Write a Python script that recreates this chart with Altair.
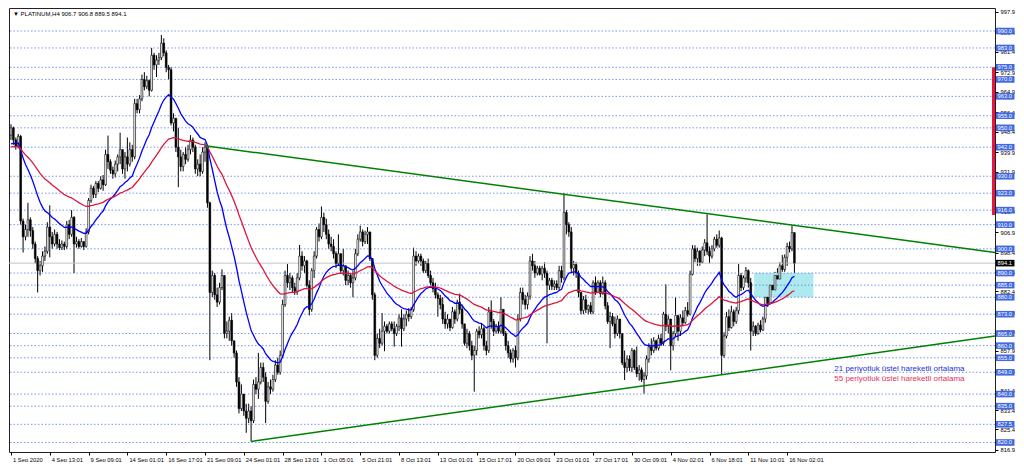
import json
import altair as alt
import pandas as pd

# ---------------- data ----------------
TITLE = "▼ PLATINUM,H4 906.7 906.8 889.5 894.1"
FIRST_OPEN = 947.0

CLOSE = [
    950, 945, 942.5, 946.5, 911.5, 905, 908, 912, 907.5, 902, 896, 891, 893, 897, 899, 909,
    905, 902, 906, 902, 900.5, 902, 901, 910, 906, 913, 902, 903, 901, 903, 901, 907,
    920, 925, 922.5, 927, 925, 928.5, 926.5, 939, 936, 932.5, 931, 935, 938, 941,
    933, 938, 935, 941, 938, 960, 957.5, 962, 970, 967, 969.5, 965.5, 980, 976, 978, 979,
    985, 981, 975, 974, 952, 954, 942, 938, 934, 939, 937, 941, 945, 942, 933, 935,
    932, 940, 942, 919, 882, 889, 881, 878, 884, 889, 865, 866, 870.5, 862, 857, 845,
    834, 840, 833, 830, 833, 829, 844, 842, 845, 851, 847, 837, 843, 842, 846, 852,
    849, 856, 877, 889, 886, 888, 884, 882.5, 888, 897, 893, 895, 885, 875, 891, 897,
    908, 905, 913, 910, 906, 902, 901, 898, 894, 898, 891, 893, 887, 889, 886, 888,
    898, 904, 907, 903, 906, 907, 896, 881, 856, 863, 861, 866, 868, 866, 869, 867,
    865, 868, 871.5, 867, 871, 873, 872, 875, 897, 895, 897, 895, 891, 894, 889, 886,
    883.5, 881, 879.5, 877, 871, 869, 871, 867.5, 874, 871, 878, 875, 869, 861, 865, 860,
    856, 858, 866, 864.5, 867, 860, 858, 874, 870, 866, 868, 866, 875, 865, 860, 857,
    854.5, 858, 855, 871, 882, 879, 877, 880.5, 895, 893, 890, 892, 889.5, 892, 890, 885,
    887, 884.5, 885.5, 884, 891, 888, 915, 910, 907, 892, 893.5, 890, 882, 874.5, 879, 875,
    876.5, 874, 886, 882, 886, 881.5, 886, 876.5, 870, 872, 869, 865, 871, 865, 853, 851,
    854.5, 851, 858, 851, 848.5, 850, 846, 847.5, 854.5, 859.5, 858, 862, 859, 863, 861, 873,
    868, 871, 860, 865, 872.5, 866, 871.5, 869.5, 874.5, 873, 889.5, 900, 896, 899, 894.5, 899.5,
    902.5, 899, 897, 900, 904, 901.5, 904.5, 856, 864, 872, 867.5, 874, 870, 874.5, 889, 884,
    888, 891, 886, 866, 868, 865, 868.5, 866.5, 871, 880, 877.5, 885, 883, 889, 887.5, 893,
    891.5, 896.5, 901, 900, 906.7, 894.1,
]
HIGH = [
    951.5, 950.5, 946, 947.5, 947, 912.5, 910, 919, 913, 909, 903, 897, 895, 899, 901, 911,
    918, 907, 908, 907, 904, 903.5, 903, 911.5, 912, 916, 913.5, 905, 904, 904.5, 903, 908.5,
    921, 926.5, 926, 928, 928, 930, 930.5, 941, 946.8, 937, 934, 936.5, 939, 948,
    941, 940, 946, 944, 943, 962, 962, 963.5, 972, 973, 971.5, 970, 983, 981, 980, 981,
    988.4, 987, 982, 976, 975, 956, 953, 950, 941, 940, 942, 943, 947, 946, 943, 937,
    939, 942, 944, 942, 919.5, 891, 890, 884, 886, 891.5, 889, 870, 872, 873.5, 862, 858,
    847, 844, 840, 836, 836, 835, 846, 847, 857, 853, 853, 849, 845, 846, 848, 854,
    855, 858, 879, 891, 893.7, 890, 889, 886, 890, 901.6, 899, 897, 895.5, 887, 892, 899,
    909, 910.5, 917.5, 915, 912.5, 908, 905, 904, 899, 906, 898, 900, 893, 891, 890, 891,
    900, 906, 909.6, 908, 907.5, 909, 907, 896, 882, 865, 867, 873.5, 870, 869, 870, 870,
    870, 869, 873, 875, 873, 874.5, 875.5, 876, 900.5, 899, 898, 898, 896, 895, 896, 891,
    888, 886, 882, 881, 880, 874, 873, 871, 876, 875, 879, 881.5, 877, 869, 867, 866,
    862, 860, 867, 868, 869, 868, 862, 876, 878.7, 871, 869, 870, 880, 875, 866, 862,
    858.5, 859, 860, 873, 884, 884, 881, 882, 897, 898, 895, 893, 893, 893, 894.5, 891,
    888, 888, 887, 887, 893, 893, 923, 916, 911, 909, 895, 894.5, 891, 882, 880.5, 881,
    877, 878, 887, 888.6, 887, 887, 888.6, 887, 878, 874, 873.5, 872, 872.5, 871, 864, 858,
    856, 856, 859, 858.5, 859.6, 852, 851, 849, 856, 861, 863, 863.5, 862.5, 864.5, 865, 874,
    885.4, 872.5, 871, 866, 879.9, 872.5, 873, 874.5, 876, 878, 891, 901.5, 901.5, 900.5, 899.5, 901,
    904, 914.3, 901, 901.5, 905, 906, 907.6, 905, 865.5, 874, 875, 876.5, 875, 876, 893.7, 890,
    889, 892.5, 891.5, 888, 870, 868.5, 869.5, 870.5, 872, 881.5, 884, 886.5, 889, 890.5, 892, 894.5,
    897.5, 897.7, 902.5, 903, 909.6, 906.8,
]
LOW = [
    945, 943, 941, 941.5, 910, 898.5, 903.5, 905, 905, 900, 894, 882, 889, 890.5, 895, 898,
    896.5, 900, 901, 900, 899.5, 899.5, 899.5, 900, 904, 905, 890, 900.5, 900, 900.5, 899.5, 900.5,
    906, 919, 921, 921, 923.5, 924.5, 924, 926, 933, 931, 929, 929.5, 932, 935,
    931, 929, 932, 934, 936, 937, 956, 956, 961, 965.5, 966, 963, 965, 974, 971, 976,
    978, 979.5, 973, 970, 951, 948.5, 940, 925.5, 932, 932, 935, 936, 939, 940, 931, 930,
    930, 931, 936, 917, 854, 880, 879, 876, 877, 883, 863, 863, 862, 860, 855, 843,
    832, 833, 831, 824, 828, 820.4, 828, 840, 838, 844, 845, 828, 836, 840, 841, 845,
    848, 848, 855, 876, 884, 883, 882, 881, 881, 887, 891, 890, 884, 872.5, 874, 888,
    896, 903, 904, 907, 904, 900, 899, 896, 892, 893, 890, 889, 885, 885, 884, 880,
    887, 897, 903, 901, 902, 902, 895, 879, 854, 855, 859, 860, 857.7, 865, 865, 866,
    859.6, 864, 866, 859.6, 866, 868, 870, 871, 874, 893, 894, 893, 890, 890, 888, 885,
    882, 879.5, 872, 875, 869, 867, 867, 866, 867, 869, 870, 873, 867, 860, 859, 858,
    854, 841, 856, 863, 863, 858, 856, 857, 867, 864, 865, 865, 865, 864, 858, 855,
    853, 853, 851, 854, 870, 877, 875, 875, 879, 891, 888, 889, 889, 887, 888, 861,
    883, 883, 883, 883, 883, 886, 887, 906, 905, 890, 889, 888, 880, 873, 873, 873.5,
    873, 873, 873, 881, 882, 880, 881, 875, 869, 859, 868, 863, 864, 863, 852, 845.8,
    849, 849.5, 849, 850, 847, 845.5, 845, 840.2, 846, 853, 856, 857, 858, 858, 860, 860,
    866, 865, 849.8, 858, 864, 862, 864, 868, 869, 872, 872.5, 889, 894.5, 893, 893, 894,
    897, 897.5, 894, 896, 899, 900.5, 900.5, 848.2, 855, 863, 866, 867, 868, 869, 873, 882.5,
    883, 886, 884, 858, 864, 864, 864.5, 865.5, 866, 869.5, 876, 877, 881.5, 882.5, 886.5, 887,
    890.5, 890.5, 893, 898.5, 899, 889.5,
]

X_LABELS = [
    "1 Sep 2020", "4 Sep 13:01", "9 Sep 09:01", "14 Sep 01:01", "16 Sep 17:01",
    "21 Sep 09:01", "24 Sep 01:01", "28 Sep 13:01", "1 Oct 05:01", "5 Oct 21:01",
    "8 Oct 13:01", "13 Oct 01:01", "15 Oct 17:01", "20 Oct 09:01", "23 Oct 01:01",
    "27 Oct 17:01", "30 Oct 09:01", "4 Nov 02:01", "6 Nov 18:01", "11 Nov 10:01",
    "16 Nov 02:01",
]
BARS_PER_LABEL = 16
PRICE_TICKS = [997.9, 989.4, 981.4, 972.9, 964.9, 956.4, 948.4, 939.9, 931.9, 923.4, 915.4,
               906.9, 898.4, 890.4, 882.4, 873.9, 865.9, 857.9, 849.4, 841.4, 833.4, 825.4, 816.9]
LEVELS = [990, 983, 975, 970, 963, 955, 950, 942, 930, 923, 916, 910, 900, 890, 885, 880,
          873, 865, 860, 855, 849, 840, 835, 827.5, 820]
LAST_PRICE = 894.1
EMA21_SEED = 943.4
EMA55_SEED = 942.1
UPPER_TREND_X = [80, 405.7]
UPPER_TREND_Y = [942.6, 898.5]
LOWER_TREND_X = [99, 405.7]
LOWER_TREND_Y = [820.4, 864.0]
ZONE_X = [306.4, 330.8]
ZONE_Y = [880.0, 890.0]
RED_MARK_Y = [975.0, 914.0]
LEGEND_21 = "21 periyotluk üstel hareketli ortalama"
LEGEND_55 = "55 periyotluk üstel hareketli ortalama"

X_DOMAIN = [-0.81, 405.7]
Y_DOMAIN = [816.07, 999.51]

# ---------------- layout ----------------
W, H = 986, 444
SX, SY = W / 1000.0, H / 463.0
FONT = "Liberation Sans"

# ---------------- tables ----------------
n = len(CLOSE)
opens = [FIRST_OPEN] + CLOSE[:-1]
candles = pd.DataFrame({"i": list(range(n)), "o": opens, "h": HIGH, "l": LOW, "c": CLOSE})


def ema(values, period, seed):
    a = 2.0 / (period + 1)
    out = [seed]
    for v in values[1:]:
        out.append(out[-1] + a * (v - out[-1]))
    return out


ema_df = pd.DataFrame({
    "i": list(range(n)) * 2,
    "v": ema(CLOSE, 21, EMA21_SEED) + ema(CLOSE, 55, EMA55_SEED),
    "s": ["e21"] * n + ["e55"] * n,
})
trend_df = pd.DataFrame({
    "i": UPPER_TREND_X + LOWER_TREND_X,
    "v": UPPER_TREND_Y + LOWER_TREND_Y,
    "s": ["up", "up", "lo", "lo"],
})
levels_df = pd.DataFrame({"v": LEVELS})
zone_df = pd.DataFrame({"x0": [ZONE_X[0]], "x1": [ZONE_X[1]], "y0": [ZONE_Y[0]], "y1": [ZONE_Y[1]]})
last_df = pd.DataFrame({"v": [LAST_PRICE]})
red_df = pd.DataFrame({"a": [RED_MARK_Y[0]], "b": [RED_MARK_Y[1]]})
title_df = pd.DataFrame({"t": [TITLE]})
leg_df = pd.DataFrame({"t": [LEGEND_21, LEGEND_55]})

xs = alt.Scale(domain=X_DOMAIN, nice=False, zero=False)
ys = alt.Scale(domain=Y_DOMAIN, nice=False, zero=False)

label_expr = "%s[round(datum.value / %d)]" % (json.dumps(X_LABELS), BARS_PER_LABEL)
X_AXIS = alt.Axis(
    values=[k * BARS_PER_LABEL for k in range(len(X_LABELS))],
    labelExpr=label_expr, orient="bottom", labelAlign="left", labelOffset=1.5,
    labelPadding=1, labelFontSize=5.8, labelFont=FONT, labelColor="black",
    tickColor="black", tickSize=3, domain=False, grid=False, title=None,
    labelOverlap=False, labelFlush=False,
)
Y_AXIS = alt.Axis(
    values=PRICE_TICKS, format=".1f", orient="right", labelFontSize=5.8, labelFont=FONT,
    labelColor="black", labelPadding=2, tickColor="black", tickSize=3, domain=False,
    grid=False, title=None, labelOverlap=False, labelFlush=False,
)


def X(field):
    return alt.X(field, type="quantitative", scale=xs, axis=X_AXIS)


def Y(field):
    return alt.Y(field, type="quantitative", scale=ys, axis=Y_AXIS)


wicks = alt.Chart(candles).mark_rule(color="black", strokeWidth=1).encode(
    x=X("i"), y=Y("l"), y2="h:Q",
)
zone = alt.Chart(zone_df).mark_rect(color="#aee9ee").encode(
    x=X("x0"), x2="x1:Q", y=Y("y0"), y2="y1:Q",
)
level_lines = alt.Chart(levels_df).mark_rule(
    color="#4169e1", strokeWidth=1, strokeDash=[1.5, 2], opacity=0.7
).encode(y=Y("v"))
last_line = alt.Chart(last_df).mark_rule(color="#c4c4c4", strokeWidth=1).encode(y=Y("v"))
bodies = alt.Chart(candles).transform_calculate(
    x0="datum.i - 0.36", x1="datum.i + 0.36"
).mark_rect(stroke="black", strokeWidth=0.6).encode(
    x=X("x0"), x2="x1:Q", y=Y("o"), y2="c:Q",
    fill=alt.condition("datum.c >= datum.o", alt.value("white"), alt.value("black")),
)
emas = alt.Chart(ema_df).mark_line(strokeWidth=1.3).encode(
    x=X("i"), y=Y("v"),
    color=alt.Color("s:N", scale=alt.Scale(domain=["e21", "e55"], range=["#0000ff", "#dc143c"]), legend=None),
)
trends = alt.Chart(trend_df).mark_line(color="#008000", strokeWidth=1.5).encode(
    x=X("i"), y=Y("v"), detail="s:N",
)
red_mark = alt.Chart(red_df).mark_rule(color="#e8173f", strokeWidth=3).encode(
    x=alt.value(W - 1.5), y=Y("a"), y2="b:Q",
)
box_half = 3.3 / (H / (Y_DOMAIN[1] - Y_DOMAIN[0]))
level_boxes = alt.Chart(levels_df).transform_calculate(
    lo="datum.v - %f" % box_half, hi="datum.v + %f" % box_half
).mark_rect(color="#4169e1").encode(
    x=alt.value(W + 1), x2=alt.value(W + 19.5), y=Y("lo"), y2="hi:Q",
)
level_text = alt.Chart(levels_df).mark_text(
    align="left", baseline="middle", fontSize=5.8, font=FONT, color="white"
).encode(x=alt.value(W + 2.5), y=Y("v"), text=alt.Text("v:Q", format=".1f"))
last_box = alt.Chart(last_df).transform_calculate(
    lo="datum.v - %f" % box_half, hi="datum.v + %f" % box_half
).mark_rect(color="black").encode(
    x=alt.value(W + 1), x2=alt.value(W + 19.5), y=Y("lo"), y2="hi:Q",
)
last_text = alt.Chart(last_df).mark_text(
    align="left", baseline="middle", fontSize=5.8, font=FONT, color="white"
).encode(x=alt.value(W + 2.5), y=Y("v"), text=alt.Text("v:Q", format=".1f"))
title = alt.Chart(title_df).mark_text(
    align="left", baseline="middle", fontSize=6, font=FONT, color="black"
).encode(x=alt.value(4 * SX), y=alt.value(6 * SY), text="t:N")
leg21 = alt.Chart(leg_df.iloc[[0]]).mark_text(
    align="left", baseline="middle", fontSize=8, font=FONT, color="#2430d8"
).encode(x=alt.value(837 * SX), y=alt.value(376 * SY), text="t:N")
leg55 = alt.Chart(leg_df.iloc[[1]]).mark_text(
    align="left", baseline="middle", fontSize=8, font=FONT, color="#e3305c"
).encode(x=alt.value(837 * SX), y=alt.value(387 * SY), text="t:N")

chart = alt.layer(
    wicks, zone, level_lines, last_line, bodies, emas, trends, red_mark,
    level_boxes, level_text, last_box, last_text, title, leg21, leg55,
).properties(width=W, height=H, padding=0, background="white").configure_view(
    stroke="#222222", strokeWidth=1
)

chart.save("out.html", embed_options={"renderer": "svg", "actions": False})
